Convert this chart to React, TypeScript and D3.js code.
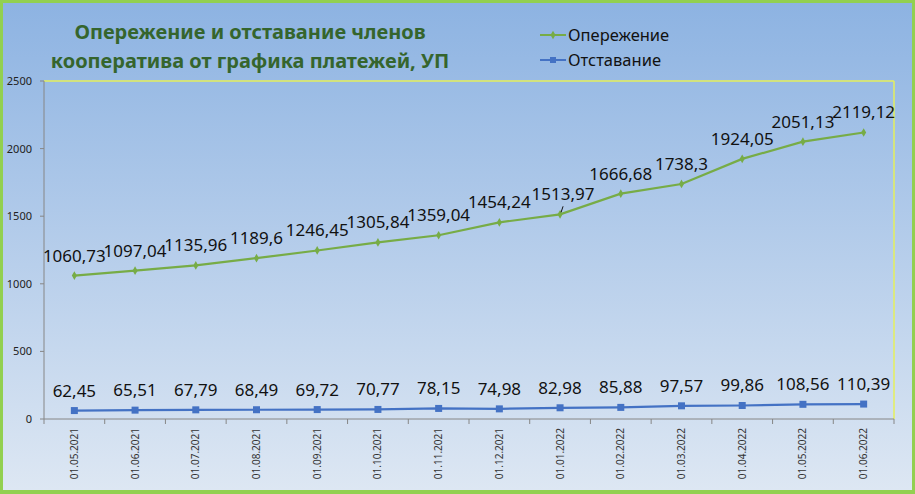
import React from "react";
import * as d3 from "d3";

const dates = ["01.05.2021","01.06.2021","01.07.2021","01.08.2021","01.09.2021","01.10.2021","01.11.2021","01.12.2021","01.01.2022","01.02.2022","01.03.2022","01.04.2022","01.05.2022","01.06.2022"];
const ahead = [1060.73,1097.04,1135.96,1189.6,1246.45,1305.84,1359.04,1454.24,1513.97,1666.68,1738.3,1924.05,2051.13,2119.12];
const behind = [62.45,65.51,67.79,68.49,69.72,70.77,78.15,74.98,82.98,85.88,97.57,99.86,108.56,110.39];
const yTicks = [0,500,1000,1500,2000,2500];
const titleLines = ["Опережение и отставание членов","кооператива от графика платежей, УП"];
const seriesNames = ["Опережение","Отставание"];

const W = 915, H = 494;
const FONT = "'Noto Sans', 'Open Sans', sans-serif";
const GREEN = "#77ac46";
const BLUE = "#4472c4";

function fmt(v: number) {
  return String(v).replace(".", ",");
}

export default function App() {
  const x = d3.scaleBand<string>().domain(dates).range([44, 894]);
  const y = d3.scaleLinear().domain([0, 2500]).range([419, 81]);
  const cx = (d: string) => (x(d) as number) + x.bandwidth() / 2;
  const line = d3.line<number>().x((_, i) => cx(dates[i])).y((v) => y(v));
  const bounds = d3.range(dates.length + 1).map((i) => 44 + i * x.step());

  return (
    <svg width={W} height={H} style={{ position: "absolute", left: 0, top: 0 }} fontFamily={FONT}>
      <defs>
        <linearGradient id="bg" x1="0" y1="0" x2="0" y2="1">
          <stop offset="0" stopColor="#8db3e2" />
          <stop offset="1" stopColor="#dde7f3" />
        </linearGradient>
      </defs>
      <rect x={0} y={0} width={W} height={H} fill="#92d050" />
      <rect x={3} y={3} width={W - 6} height={H - 7} fill="url(#bg)" />

      {/* title */}
      {titleLines.map((t, i) => (
        <text key={i} x={250} y={39 + i * 29} textAnchor="middle" fontSize={20} fontWeight="bold" fill="#35652d">{t}</text>
      ))}

      {/* legend */}
      {seriesNames.map((n, i) => {
        const ly = 35 + i * 25;
        const col = i === 0 ? GREEN : BLUE;
        return (
          <g key={n}>
            <line x1={540} x2={566} y1={ly} y2={ly} stroke={col} strokeWidth={2} />
            {i === 0 ? (
              <path d={d3.symbol(d3.symbolDiamond, 22)() as string} transform={`translate(553,${ly})`} fill={col} />
            ) : (
              <rect x={550} y={ly - 3} width={6} height={6} fill={col} />
            )}
            <text x={568} y={ly + 5.5} fontSize={16.5} fill="#111">{n}</text>
          </g>
        );
      })}

      {/* plot border (yellow) */}
      <line x1={44} x2={894} y1={81} y2={81} stroke="#e4ef5c" strokeWidth={1.5} />
      <line x1={894} x2={894} y1={81} y2={419} stroke="#e4ef5c" strokeWidth={1.5} />

      {/* y axis */}
      <line x1={44} x2={44} y1={81} y2={419} stroke="#868686" />
      {yTicks.map((t) => (
        <g key={t}>
          <line x1={40} x2={44} y1={y(t)} y2={y(t)} stroke="#868686" />
          <text x={32} y={y(t) + 4} textAnchor="end" fontSize={11} fill="#222">{t}</text>
        </g>
      ))}

      {/* x axis */}
      <line x1={44} x2={894} y1={419} y2={419} stroke="#868686" />
      {bounds.map((b, i) => (
        <line key={i} x1={b} x2={b} y1={419} y2={424} stroke="#868686" />
      ))}
      {dates.map((d) => (
        <text key={d} transform={`translate(${cx(d) + 3.5},428) rotate(-90)`} textAnchor="end" fontSize={10} fill="#333">{d}</text>
      ))}

      {/* series */}
      <path d={line(ahead) as string} fill="none" stroke={GREEN} strokeWidth={2.2} />
      <path d={line(behind) as string} fill="none" stroke={BLUE} strokeWidth={2.2} />
      {ahead.map((v, i) => (
        <path key={i} d={d3.symbol(d3.symbolDiamond, 22)() as string} transform={`translate(${cx(dates[i])},${y(v)})`} fill={GREEN} />
      ))}
      {behind.map((v, i) => (
        <rect key={i} x={cx(dates[i]) - 3.5} y={y(v) - 3.5} width={7} height={7} fill={BLUE} />
      ))}

      {/* labels */}
      {ahead.map((v, i) => (
        <text key={i} x={cx(dates[i]) + (i === 8 ? 3 : 0)} y={y(v) - 14} textAnchor="middle" fontSize={17} fill="#111">{fmt(v)}</text>
      ))}
      <line x1={cx(dates[8]) + 1} y1={y(ahead[8]) - 2} x2={cx(dates[8]) + 3} y2={y(ahead[8]) - 8} stroke="#111" strokeWidth={1} />
      {behind.map((v, i) => (
        <text key={i} x={cx(dates[i])} y={y(v) - 14} textAnchor="middle" fontSize={17} fill="#111">{fmt(v)}</text>
      ))}
    </svg>
  );
}
